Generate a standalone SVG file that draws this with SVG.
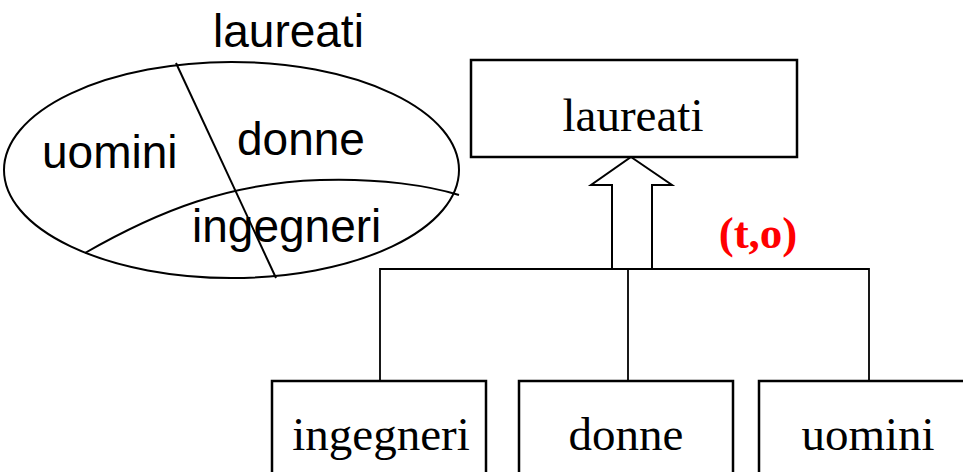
<svg xmlns="http://www.w3.org/2000/svg" width="963" height="472" viewBox="0 0 963 472">
<style>
.sans{font-family:"Liberation Sans",Arial,sans-serif;font-size:46px;fill:#000}
.serif{font-family:"Liberation Serif","Times New Roman",serif;font-size:47px;fill:#000;text-anchor:middle}
.box{fill:#fff;stroke:#000;stroke-width:2.5}
.ln{fill:none;stroke:#000;stroke-width:2}
.cn{fill:none;stroke:#000;stroke-width:1.8}
</style>
<rect width="963" height="472" fill="#fff"/>
<g id="venn">
<ellipse class="ln" cx="231.5" cy="170" rx="227.5" ry="108"/>
<line class="ln" x1="176" y1="63" x2="276" y2="278"/>
<path class="ln" d="M85,253 C160,210 230,183 320,180 C380,178 430,186 459,195"/>
<text class="sans" x="213" y="47">laureati</text>
<text class="sans" x="42" y="168">uomini</text>
<text class="sans" x="237" y="155">donne</text>
<text class="sans" x="192" y="242">ingegneri</text>
</g>
<g id="connectors">
<polyline class="cn" points="380,381 380,269 869,269 869,381"/>
<line class="cn" x1="628" y1="269" x2="628" y2="381"/>
<polygon fill="#fff" stroke="#000" stroke-width="2" points="631,157 672,185 652,185 652,269 612,269 612,185 591,185"/>
</g>
<g id="node-laureati">
<rect class="box" x="471" y="60" width="326" height="97"/>
<text class="serif" x="633" y="131">laureati</text>
</g>
<text x="758" y="248" font-family="'Liberation Serif','Times New Roman',serif" font-size="45" font-weight="bold" fill="#ff0000" text-anchor="middle">(t,o)</text>
<g id="node-ingegneri">
<rect class="box" x="272" y="381" width="214" height="120"/>
<text class="serif" x="381" y="450">ingegneri</text>
</g>
<g id="node-donne">
<rect class="box" x="519" y="381" width="214" height="120"/>
<text class="serif" x="626" y="450">donne</text>
</g>
<g id="node-uomini">
<rect class="box" x="759" y="381" width="214" height="120"/>
<text class="serif" x="868" y="450">uomini</text>
</g>
</svg>
